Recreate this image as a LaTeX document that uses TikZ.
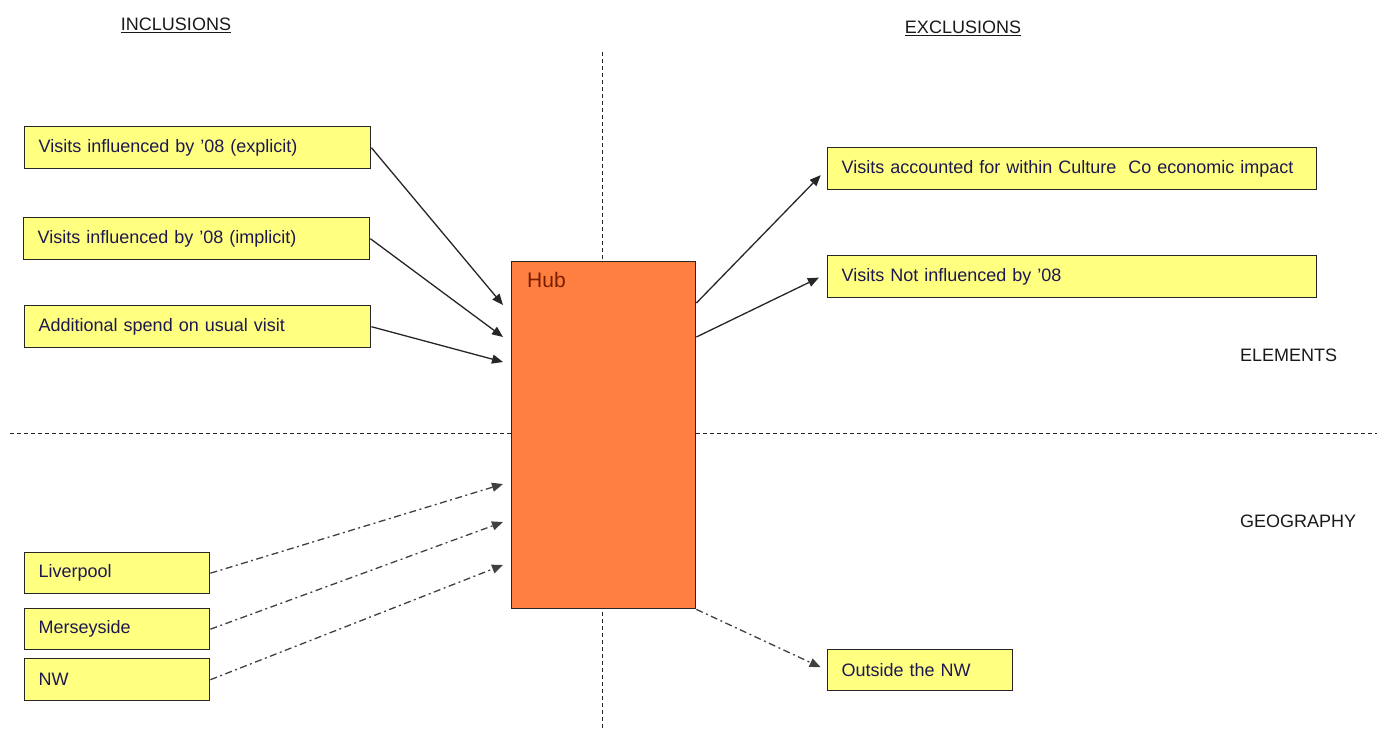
\documentclass[tikz,border=0pt]{standalone}
\usepackage{fontspec}
\setmainfont{Liberation Sans}
\usetikzlibrary{arrows.meta,calc}
\definecolor{boxfill}{HTML}{FFFF80}
\definecolor{hubfill}{HTML}{FF7F41}
\definecolor{txt}{HTML}{1E1850}
\definecolor{hubtxt}{HTML}{7A1E00}
\tikzset{
  ybox/.style={draw=black!85,line width=1.4pt,fill=boxfill,anchor=north west,
    minimum height=42pt,inner xsep=14pt,inner ysep=0pt,align=left,text=txt,
    font=\fontsize{18}{21}\selectfont},
  solidarrow/.style={draw=black!85,line width=1.3pt,-{Triangle[length=11pt,width=9pt]}},
  dasharrow/.style={draw=black!75,line width=1.3pt,dash pattern=on 7pt off 3.5pt on 2pt off 3.5pt,-{Triangle[length=11pt,width=9pt]}},
  divider/.style={draw=black!85,line width=1pt,dash pattern=on 4pt off 3pt},
  heading/.style={font=\fontsize{18}{21}\selectfont,text=black!90,inner sep=0pt}
}
\begin{document}
\begin{tikzpicture}[x=1pt,y=-1pt]
\useasboundingbox (0,0) rectangle (1377,731);
% dividers
\coordinate (vtop) at (602,52);
\coordinate (vbot) at (602,731);
\coordinate (hl) at (10,433);
\coordinate (hr) at (1377,433);
\draw[divider] (vtop) -- (vbot);
\draw[divider] (hl) -- (hr);
% hub
\node[draw=black!85,line width=1.4pt,fill=hubfill,anchor=north west,minimum width=184pt,minimum height=347pt,inner sep=0pt] (hub) at (511,261) {};
\node[anchor=west,text=hubtxt,font=\fontsize{21}{24}\selectfont,inner sep=0pt] (hubl) at (527,280) {Hub};
% headings
\node[heading] (inc) at (176,25) {\underline{INCLUSIONS}};
\node[heading] (exc) at (963,28) {\underline{EXCLUSIONS}};
\node[heading,anchor=west] (ele) at (1240,355) {ELEMENTS};
\node[heading,anchor=west] (geo) at (1240,521) {GEOGRAPHY};
% left boxes
\node[ybox,text width=318pt] (expl) at (24,126) {Visits influenced by ’08 (explicit)};
\node[ybox,text width=318pt] (impl) at (23,217) {Visits influenced by ’08 (implicit)};
\node[ybox,text width=318pt] (addl) at (24,305) {Additional spend on usual visit};
\node[ybox,text width=157pt,minimum height=41pt] (liv) at (24,552) {Liverpool};
\node[ybox,text width=157pt,minimum height=41pt] (mer) at (24,608) {Merseyside};
\node[ybox,text width=157pt] (nw) at (24,658) {NW};
% right boxes
\node[ybox,text width=461pt] (cul) at (827,147) {Visits accounted for within Culture\ \ Co economic impact};
\node[ybox,text width=461pt] (not) at (827,255) {Visits Not influenced by ’08};
\node[ybox,text width=157pt,minimum height=41pt] (out) at (827,649) {Outside the NW};
% arrows
\draw[solidarrow] (expl.east) -- ($(hub.north west)+(-8,44)$);
\draw[solidarrow] (impl.east) -- ($(hub.north west)+(-8,76)$);
\draw[solidarrow] (addl.east) -- ($(hub.north west)+(-8,101)$);
\draw[solidarrow,shorten >=9pt] ($(hub.north east)+(0,42)$) -- (cul.west);
\draw[solidarrow,shorten >=9pt] ($(hub.north east)+(0,76)$) -- ($(not.west)+(0,-3)$);
\draw[dasharrow] (liv.east) -- ($(hub.north west)+(-8,223)$);
\draw[dasharrow] (mer.east) -- ($(hub.north west)+(-8,261)$);
\draw[dasharrow] (nw.east) -- ($(hub.north west)+(-8,304)$);
\draw[dasharrow,shorten >=7pt] (hub.south east) -- (out.west);
\end{tikzpicture}
\end{document}
